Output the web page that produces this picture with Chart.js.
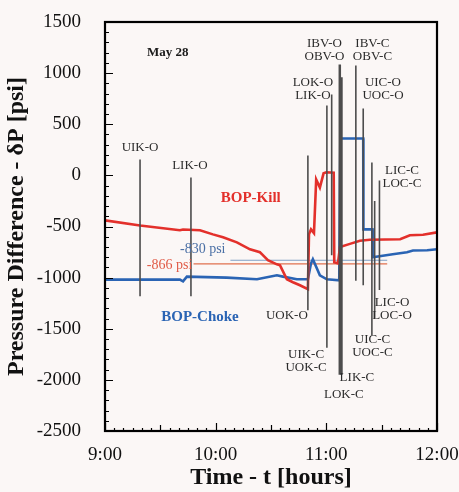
<!DOCTYPE html>
<html>
<head>
<meta charset="utf-8">
<script src="https://cdn.jsdelivr.net/npm/chart.js@4.4.0/dist/chart.umd.min.js"></script>
<style>
  html, body { margin: 0; padding: 0; background: #fbf7f6; }
  #wrap { width: 459px; height: 492px; }
</style>
</head>
<body>
<div id="wrap"><canvas id="bopChart"></canvas></div>
<script>
// times are minutes after 9:00
const killTimes = [0, 19, 40.6, 42.3, 51.5, 58.5, 64, 71.5, 78.6, 84, 85.6, 88.3, 93.2, 94.9, 98.6, 101.9, 105.7, 110,
  110.6, 111.7, 113.3, 114.5, 116.5, 118.5, 120, 124, 124.3, 126.3, 127.4, 132.8, 138.2, 143.6, 160, 165.3, 172.4, 180];
const killPsi = [-440, -490, -537, -530, -537, -577, -606, -655, -723, -752, -780, -830, -870, -880, -1016, -1045, -1075, -1113,
  -577, -528, -565, -40, -120, 20, 30, 25, -850, -860, -700, -670, -640, -630, -625, -586, -580, -557];

const chokeTimes = [0, 19, 40.6, 42.3, 44.4, 66, 82.4, 93.2, 96.5, 104, 110, 111.7, 112.7, 116.5, 120.3, 127, 127.6, 140,
  140.1, 145, 145.1, 156, 163.7, 167, 174.7, 180];
const chokePsi = [-1020, -1020, -1020, -1036, -990, -1000, -1016, -977, -990, -1016, -1016, -860, -820, -977, -1016, -1026, 360, 360,
  -528, -528, -800, -772, -752, -735, -733, -723];

// valve events: vertical marker lines
const eventTimes   = [19,   46.6, 110,   120.3, 122.9, 127.3, 128.2, 136,   140,   144.7, 146.2, 148.8];
const eventTopPsi  = [156,  -20,  195,   684,   791,   1085,  960,   1075,  655,   127,   -250,  -49];
const eventLowPsi  = [-1182, -1182, -1320, -1685, -780, -1950, -1950, -1030, -1075, -1563, -1400, -1120];

const eventLabels    = ['UIK-O', 'LIK-O', 'UOK-O', 'UIK-C|UOK-C', 'LOK-O|LIK-O', 'IBV-O|OBV-O', 'IBV-C|OBV-C',
  'UIC-O|UOC-O', 'LIC-C|LOC-C', 'LIC-O|LOC-O', 'UIC-C|UOC-C', 'LIK-C', 'LOK-C'];
const eventLabelTime = [19, 46, 98.6, 109, 112.7, 119, 145, 150.7, 161, 155.6, 145, 136.6, 129.5];
const eventLabelPsi  = [274, 98, -1368, -1749, 909, 1290, 1290, 909, 49, -1241, -1602, -1974, -2140];

// reference levels
const refLevels = [-830, -866];
const refStart  = [68, 48];
const refEnd    = [153, 153];

const xTicks = ['9:00', '10:00', '11:00', '12:00'];

const serif = "'Liberation Serif', 'Times New Roman', serif";
const killColor = '#e3302b';
const chokeColor = '#2a64b4';

const toPoints = (ts, vs) => ts.map((t, i) => ({ x: t, y: vs[i] }));

const datasets = [];
eventTimes.forEach((t, i) => {
  datasets.push({
    data: [{ x: t, y: eventTopPsi[i] }, { x: t, y: eventLowPsi[i] }],
    borderColor: '#4d4d4d', borderWidth: (i === 5 || i === 6) ? 2.5 : 1.6,
    pointRadius: 0, order: 0
  });
});
refLevels.forEach((v, i) => {
  datasets.push({
    data: [{ x: refStart[i], y: v }, { x: refEnd[i], y: v }],
    borderColor: i === 0 ? '#7f9fc4' : '#e0704e', borderWidth: 1.2,
    pointRadius: 0, order: 2
  });
});
datasets.push({
  label: 'BOP-Kill', data: toPoints(killTimes, killPsi),
  borderColor: killColor, borderWidth: 2.6, pointRadius: 0, tension: 0, order: 1
});
datasets.push({
  label: 'BOP-Choke', data: toPoints(chokeTimes, chokePsi),
  borderColor: chokeColor, borderWidth: 2.6, pointRadius: 0, tension: 0, order: 1
});

const paperBg = {
  id: 'paperBg',
  beforeDraw(chart) {
    const ctx = chart.ctx;
    ctx.save();
    ctx.fillStyle = '#fbf7f6';
    ctx.fillRect(0, 0, chart.width, chart.height);
    ctx.restore();
  }
};

// frame with inward tick marks
const frameTicks = {
  id: 'frameTicks',
  afterDraw(chart) {
    const { ctx, chartArea: a, scales: { x, y } } = chart;
    ctx.save();
    ctx.strokeStyle = '#000';
    ctx.lineWidth = 1.2;
    ctx.beginPath();
    for (let v = -2500; v <= 1500; v += 100) {
      const py = Math.round(y.getPixelForValue(v)) + 0.5;
      const len = v % 500 === 0 ? 8 : 4;
      ctx.moveTo(a.left, py); ctx.lineTo(a.left + len, py);
    }
    for (let m = 0; m <= 180; m += 5) {
      const px = Math.round(x.getPixelForValue(m)) + 0.5;
      const len = m % 60 === 0 ? 8 : (m % 30 === 0 ? 6 : 3);
      ctx.moveTo(px, a.bottom); ctx.lineTo(px, a.bottom - len);
    }
    ctx.stroke();
    ctx.lineWidth = 2.2;
    ctx.strokeRect(a.left, a.top, a.right - a.left, a.bottom - a.top);
    ctx.restore();
  }
};

const annotText = {
  id: 'annotText',
  afterDatasetsDraw(chart) {
    const { ctx, scales: { x, y } } = chart;
    ctx.save();
    ctx.textAlign = 'center';
    ctx.textBaseline = 'middle';
    ctx.font = '13px ' + serif;
    ctx.fillStyle = '#2b2b2b';
    eventLabels.forEach((txt, i) => {
      const px = x.getPixelForValue(eventLabelTime[i]);
      const py = y.getPixelForValue(eventLabelPsi[i]);
      txt.split('|').forEach((line, k) => ctx.fillText(line, px, py + k * 13));
    });
    const put = (text, t, v, font, color) => {
      ctx.font = font; ctx.fillStyle = color;
      ctx.fillText(text, x.getPixelForValue(t), y.getPixelForValue(v));
    };
    put('May 28', 34, 1202, 'bold 13px ' + serif, '#1a1a1a');
    put('BOP-Kill', 79, -225, 'bold 15px ' + serif, killColor);
    put('BOP-Choke', 51.5, -1387, 'bold 15px ' + serif, chokeColor);
    put('-830 psi', 53, -723, '14px ' + serif, '#4a6fa5');
    put('-866 psi', 35, -880, '14px ' + serif, '#e05a46');
    ctx.restore();
  }
};

new Chart(document.getElementById('bopChart'), {
  type: 'line',
  data: { datasets },
  options: {
    responsive: true,
    maintainAspectRatio: false,
    animation: false,
    layout: { padding: { top: 22, right: 22, left: 0, bottom: 0 } },
    plugins: { legend: { display: false }, tooltip: { enabled: false } },
    scales: {
      x: {
        type: 'linear', min: 0, max: 180,
        grid: { display: false }, border: { display: false },
        ticks: {
          stepSize: 60, maxRotation: 0, padding: 5, color: '#111',
          font: { family: serif, size: 19 },
          callback: v => xTicks[v / 60]
        },
        title: {
          display: true, text: 'Time - t [hours]', color: '#111',
          font: { family: serif, size: 24, weight: 'bold' }, padding: { top: 0, bottom: 0 }
        },
        afterFit: s => { s.height = 61; s.paddingLeft = 0; s.paddingRight = 0; }
      },
      y: {
        min: -2500, max: 1500,
        grid: { display: false }, border: { display: false },
        ticks: {
          stepSize: 500, padding: 16, color: '#111',
          font: { family: serif, size: 19 },
          callback: v => String(v)
        },
        title: {
          display: true, text: 'Pressure Difference - δP [psi]', color: '#111',
          font: { family: serif, size: 24, weight: 'bold' }, padding: { top: 2, bottom: 0 }
        },
        afterFit: s => { s.width = 105; s.paddingTop = 0; s.paddingBottom = 0; }
      }
    }
  },
  plugins: [paperBg, frameTicks, annotText]
});
</script>
</body>
</html>
